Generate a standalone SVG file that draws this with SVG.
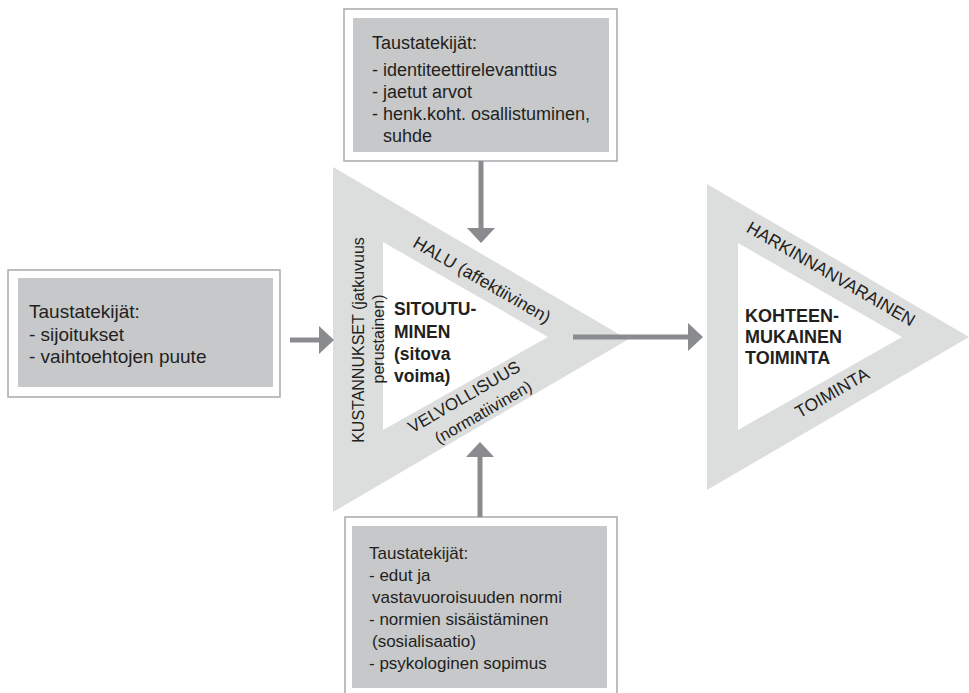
<svg xmlns="http://www.w3.org/2000/svg" width="969" height="693" viewBox="0 0 969 693">
<style>
.frame{fill:#ffffff;stroke:#a7a9ac;stroke-width:1.5}
.fill{fill:#c6c8ca}
.tri{fill:#dcdddd}
.hole{fill:#ffffff}
.t{font-family:"Liberation Sans",Arial,sans-serif;fill:#231f20}
.b{font-family:"Liberation Sans",Arial,sans-serif;font-weight:bold;fill:#231f20}
.conn{stroke:#8a8b8e;stroke-width:5;fill:none}
</style>
<defs>
<marker id="ah" markerUnits="userSpaceOnUse" viewBox="0 0 15 28" markerWidth="15" markerHeight="28" refX="0" refY="14" orient="auto">
<path d="M0,0 L15,14 L0,28 Z" fill="#8a8b8e"/>
</marker>
</defs>
<rect width="969" height="693" fill="#ffffff"/>

<g id="box-top">
<rect class="frame" x="344" y="9" width="273" height="152"/>
<rect class="fill" x="353" y="18" width="256" height="134"/>
<text class="t" font-size="18" x="372" y="49">Taustatekijät:</text>
<text class="t" font-size="18" x="372" y="76">- identiteettirelevanttius</text>
<text class="t" font-size="18" x="372" y="98">- jaetut arvot</text>
<text class="t" font-size="18" x="372" y="120">- henk.koht. osallistuminen,</text>
<text class="t" font-size="18" x="383" y="142">suhde</text>
</g>

<g id="box-left">
<rect class="frame" x="8" y="270" width="272" height="127"/>
<rect class="fill" x="18" y="278" width="255" height="109"/>
<text class="t" font-size="19" x="29" y="318">Taustatekijät:</text>
<text class="t" font-size="19" x="29" y="341">- sijoitukset</text>
<text class="t" font-size="19" x="29" y="363">- vaihtoehtojen puute</text>
</g>

<g id="box-bottom">
<rect class="frame" x="345" y="517" width="272" height="190"/>
<rect class="fill" x="352" y="526" width="255" height="162"/>
<text class="t" font-size="17" x="369" y="559">Taustatekijät:</text>
<text class="t" font-size="17" x="369" y="581">- edut ja</text>
<text class="t" font-size="17" x="372" y="603">vastavuoroisuuden normi</text>
<text class="t" font-size="17" x="369" y="625">- normien sisäistäminen</text>
<text class="t" font-size="17" x="372" y="647">(sosialisaatio)</text>
<text class="t" font-size="17" x="369" y="669">- psykologinen sopimus</text>
</g>

<g id="triangle-commitment">
<polygon class="tri" points="333,167 333,512 628,339.5"/>
<polygon class="hole" points="383,242 383,430 548,337"/>
<text class="t" font-size="16" text-anchor="middle" transform="translate(364,340) rotate(-90)">KUSTANNUKSET (jatkuvuus</text>
<text class="t" font-size="16" text-anchor="middle" transform="translate(384,339) rotate(-90)">perustainen)</text>
<text class="t" font-size="17.5" text-anchor="middle" transform="translate(479,285) rotate(30)">HALU (affektiivinen)</text>
<text class="t" font-size="17" text-anchor="middle" transform="translate(467,402) rotate(-30)">VELVOLLISUUS</text>
<text class="t" font-size="16.5" text-anchor="middle" transform="translate(486,417) rotate(-30)">(normatiivinen)</text>
<text class="b" font-size="17.5" x="394" y="315">SITOUTU-</text>
<text class="b" font-size="17.5" x="394" y="338">MINEN</text>
<text class="b" font-size="17.5" x="394" y="360">(sitova</text>
<text class="b" font-size="17.5" x="394" y="382">voima)</text>
</g>

<g id="triangle-action">
<polygon class="tri" points="707,184 707,490 969,337"/>
<polygon class="hole" points="738,243 738,430 902,337"/>
<text class="t" font-size="17.5" text-anchor="middle" transform="translate(828,279) rotate(30)">HARKINNANVARAINEN</text>
<text class="t" font-size="17.5" text-anchor="middle" transform="translate(835,398) rotate(-30)">TOIMINTA</text>
<text class="b" font-size="18" x="745" y="322">KOHTEEN-</text>
<text class="b" font-size="18" x="745" y="343">MUKAINEN</text>
<text class="b" font-size="18" x="745" y="364">TOIMINTA</text>
</g>

<g id="connectors">
<path class="conn" d="M290,340 H319" marker-end="url(#ah)"/>
<path class="conn" d="M481,161 V228" marker-end="url(#ah)"/>
<path class="conn" d="M480,517 V457" marker-end="url(#ah)"/>
<path class="conn" d="M573,337 H688" marker-end="url(#ah)"/>
</g>
</svg>
